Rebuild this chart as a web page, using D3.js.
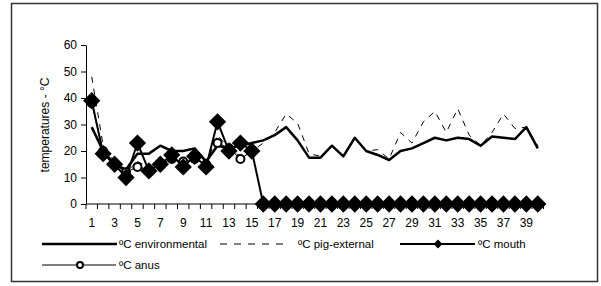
<!DOCTYPE html>
<html>
<head>
<meta charset="utf-8">
<script src="https://cdn.jsdelivr.net/npm/d3@7"></script>
<style>
  body { margin: 0; background: #fff; }
  text { font-family: "Liberation Sans", Arial, sans-serif; fill: #000; }
</style>
</head>
<body>
<svg width="601" height="286"></svg>
<script>
const days = d3.range(1, 41);
const environmental = [29,20,15,13,19,19,22,20,20,21,16,22,21,22,23,24,26,29,24,17.5,17.5,22,18,25,20,18.5,16.6,20,21,23,25,24,25,24.5,22,25.5,25,24.5,29,21];
const pigExternal = [48,22,16,12,16,14,15,17,16,17,15,26,21,18,20,23,27,34,30.5,19,18,22,18,25,20,20.5,17,27,23,31,35,27,36,26,22,27,34,28.5,29,22];
const mouth = [39,19,15,10,23,12.5,15,18.5,14,18,14,31,20,23,20,0,0,0,0,0,0,0,0,0,0,0,0,0,0,0,0,0,0,0,0,0,0,0,0,0];
const anus = [38,20,15,12,14,13,15,17,16,17,15,23,21,17,20];
const yTicks = [0, 10, 20, 30, 40, 50, 60];
const legendLabels = ["ºC environmental", "ºC pig-external", "ºC mouth", "ºC anus"];

const svg = d3.select("svg");

// outer frame
svg.append("rect")
  .attr("x", 11.5).attr("y", 3.5).attr("width", 586).attr("height", 278)
  .attr("fill", "none").attr("stroke", "#333").attr("stroke-width", 1.5);

const x = d3.scaleBand().domain(days).range([86, 543.5]);
const y = d3.scaleLinear().domain([0, 60]).range([204, 45]);
const cx = d => x(d) + x.bandwidth() / 2;

// y axis
const yAxis = svg.append("g")
  .attr("transform", "translate(86,0)")
  .call(d3.axisLeft(y).tickValues(yTicks).tickSizeInner(5).tickSizeOuter(0).tickPadding(4));
yAxis.selectAll("text").style("font-size", "12px");
yAxis.select(".domain").attr("stroke", "#000");

// x axis: ticks between categories, labels on odd days
const xg = svg.append("g");
xg.append("line").attr("x1", 86).attr("x2", 543.5).attr("y1", 204).attr("y2", 204).attr("stroke", "#000");
xg.selectAll("line.tk").data(d3.range(0, 41)).enter().append("line")
  .attr("class", "tk")
  .attr("x1", i => 86 + i * x.step()).attr("x2", i => 86 + i * x.step())
  .attr("y1", 204).attr("y2", 209).attr("stroke", "#000");
xg.selectAll("text").data(days.filter(d => d % 2 === 1)).enter().append("text")
  .attr("x", cx).attr("y", 227).attr("text-anchor", "middle")
  .style("font-size", "12px").text(d => d);

svg.append("text")
  .attr("transform", "translate(49,125) rotate(-90)")
  .attr("text-anchor", "middle").style("font-size", "12px")
  .text("temperatures - °C");

const line = d3.line().x((v, i) => cx(days[i])).y(v => y(v));

// pig-external (dashed)
svg.append("path").datum(pigExternal).attr("d", line)
  .attr("fill", "none").attr("stroke", "#000").attr("stroke-width", 1)
  .attr("stroke-dasharray", "6,6");
// environmental
svg.append("path").datum(environmental).attr("d", line)
  .attr("fill", "none").attr("stroke", "#000").attr("stroke-width", 2.5)
  .attr("stroke-linejoin", "round");
// anus
svg.append("path").datum(anus).attr("d", line)
  .attr("fill", "none").attr("stroke", "#000").attr("stroke-width", 1);
svg.selectAll("circle.anus").data(anus).enter().append("circle")
  .attr("class", "anus")
  .attr("cx", (v, i) => cx(days[i])).attr("cy", v => y(v)).attr("r", 4)
  .attr("fill", "#fff").attr("stroke", "#000").attr("stroke-width", 2);
// mouth
svg.append("path").datum(mouth).attr("d", line)
  .attr("fill", "none").attr("stroke", "#000").attr("stroke-width", 2);
const diamond = d3.symbol().type(d3.symbolDiamond2).size(190);
svg.selectAll("path.mouth").data(mouth).enter().append("path")
  .attr("class", "mouth")
  .attr("transform", (v, i) => `translate(${cx(days[i])},${y(v)})`)
  .attr("d", diamond).attr("fill", "#000");

// legend
const lg = svg.append("g").style("font-size", "11.5px");
function legendText(tx, ty, s) {
  lg.append("text").attr("x", tx).attr("y", ty + 4).text(s);
}
lg.append("line").attr("x1", 42).attr("x2", 117).attr("y1", 244).attr("y2", 244)
  .attr("stroke", "#000").attr("stroke-width", 2.5);
legendText(119, 244, legendLabels[0]);
lg.append("line").attr("x1", 220).attr("x2", 290).attr("y1", 244).attr("y2", 244)
  .attr("stroke", "#000").attr("stroke-width", 1).attr("stroke-dasharray", "7,7");
legendText(298, 244, legendLabels[1]);
lg.append("line").attr("x1", 400).attr("x2", 475).attr("y1", 244).attr("y2", 244)
  .attr("stroke", "#000").attr("stroke-width", 2);
lg.append("path").attr("transform", "translate(438,244)")
  .attr("d", d3.symbol().type(d3.symbolDiamond2).size(50)).attr("fill", "#000");
legendText(478, 244, legendLabels[2]);
lg.append("line").attr("x1", 42).attr("x2", 116).attr("y1", 265).attr("y2", 265)
  .attr("stroke", "#000").attr("stroke-width", 1);
lg.append("circle").attr("cx", 80).attr("cy", 265).attr("r", 3)
  .attr("fill", "#fff").attr("stroke", "#000").attr("stroke-width", 2);
legendText(119, 265, legendLabels[3]);
</script>
</body>
</html>
